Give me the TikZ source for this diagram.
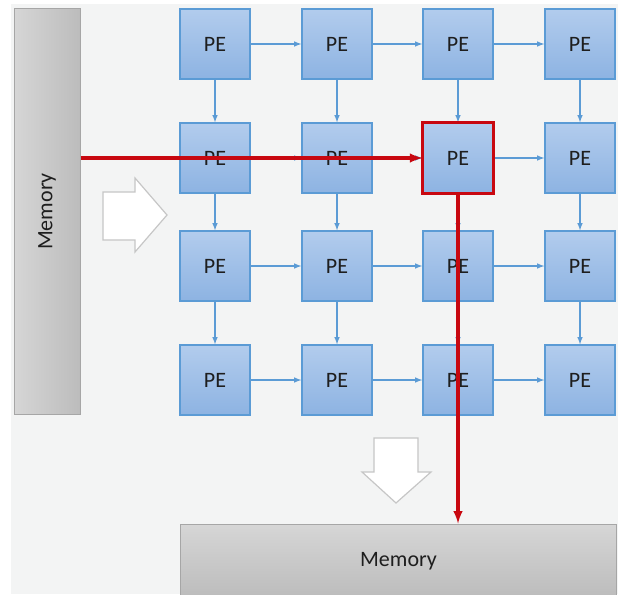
\documentclass[tikz,border=0pt]{standalone}
\usepackage{fontspec}
\setmainfont{Carlito}
\definecolor{fondo}{RGB}{243,244,244}
\definecolor{peborde}{RGB}{91,155,213}
\definecolor{pearriba}{RGB}{178,204,237}
\definecolor{peabajo}{RGB}{141,179,226}
\definecolor{rojo}{RGB}{200,8,16}
\definecolor{texto}{RGB}{30,30,30}
\definecolor{grisclaro}{RGB}{214,214,214}
\definecolor{grisoscuro}{RGB}{188,188,188}
\begin{document}
\begin{tikzpicture}[x=1pt,y=-1pt,
    pe/.style={draw=peborde, line width=1.3pt, top color=pearriba, bottom color=peabajo,
      minimum size=70pt, inner sep=0pt, text=texto, font=\fontsize{22}{24}\selectfont},
    memoria/.style={draw=gray!70, line width=1pt, inner sep=0pt, text=texto, font=\fontsize{22}{24}\selectfont},
    flecha/.style={-latex, draw=peborde, line width=1.5pt},
    ruta/.style={-latex, draw=rojo, line width=3.2pt},
    hueca/.style={fill=white, draw=gray!45, line width=1.2pt, line join=miter}]
    \useasboundingbox (0,0) rectangle (618,594);
    % Fondo
    \fill[fondo] (11,4) rectangle (618,594);
    % Memorias
    \node[memoria, left color=grisclaro, right color=grisoscuro, minimum width=66pt, minimum height=406pt] (memL) at (47,211.5) {};
    \node[rotate=90, text=texto, font=\fontsize{22}{24}\selectfont] at (memL.center) {Memory};
    \node[memoria, top color=grisclaro, bottom color=grisoscuro, minimum width=436pt, minimum height=74pt] (memB) at (398.5,561) {Memory};
    % Flechas huecas
    \draw[hueca] (103,192) -- (135,192) -- (135,178) -- (167,215) -- (135,252) -- (135,240) -- (103,240) -- cycle;
    \draw[hueca] (374,438) -- (418,438) -- (418,472) -- (431,472) -- (396,503) -- (362,472) -- (374,472) -- cycle;
    % Matriz de PEs
    \node[pe] (pe11) at (215,44) {PE};  \node[pe] (pe12) at (337,44) {PE};  \node[pe] (pe13) at (458,44) {PE};  \node[pe] (pe14) at (580,44) {PE};
    \node[pe] (pe21) at (215,158) {PE}; \node[pe] (pe22) at (337,158) {PE}; \node[pe] (pe23) at (458,158) {PE}; \node[pe] (pe24) at (580,158) {PE};
    \node[pe] (pe31) at (215,266) {PE}; \node[pe] (pe32) at (337,266) {PE}; \node[pe] (pe33) at (458,266) {PE}; \node[pe] (pe34) at (580,266) {PE};
    \node[pe] (pe41) at (215,380) {PE}; \node[pe] (pe42) at (337,380) {PE}; \node[pe] (pe43) at (458,380) {PE}; \node[pe] (pe44) at (580,380) {PE};
    % Conexiones horizontales
    \draw[flecha] (pe11) -- (pe12); \draw[flecha] (pe12) -- (pe13); \draw[flecha] (pe13) -- (pe14);
    \draw[flecha] (pe21) -- (pe22); \draw[flecha] (pe22) -- (pe23); \draw[flecha] (pe23) -- (pe24);
    \draw[flecha] (pe31) -- (pe32); \draw[flecha] (pe32) -- (pe33); \draw[flecha] (pe33) -- (pe34);
    \draw[flecha] (pe41) -- (pe42); \draw[flecha] (pe42) -- (pe43); \draw[flecha] (pe43) -- (pe44);
    % Conexiones verticales
    \draw[flecha] (pe11) -- (pe21); \draw[flecha] (pe21) -- (pe31); \draw[flecha] (pe31) -- (pe41);
    \draw[flecha] (pe12) -- (pe22); \draw[flecha] (pe22) -- (pe32); \draw[flecha] (pe32) -- (pe42);
    \draw[flecha] (pe13) -- (pe23); \draw[flecha] (pe23) -- (pe33); \draw[flecha] (pe33) -- (pe43);
    \draw[flecha] (pe14) -- (pe24); \draw[flecha] (pe24) -- (pe34); \draw[flecha] (pe34) -- (pe44);
    % Ruta de datos resaltada
    \draw[rojo, line width=3pt] (pe23.north west) rectangle (pe23.south east);
    \draw[ruta] (memL.east |- pe23) -- (pe23.west);
    \draw[ruta] (pe23.south) -- (pe23.south |- memB.north);
\end{tikzpicture}
\end{document}
